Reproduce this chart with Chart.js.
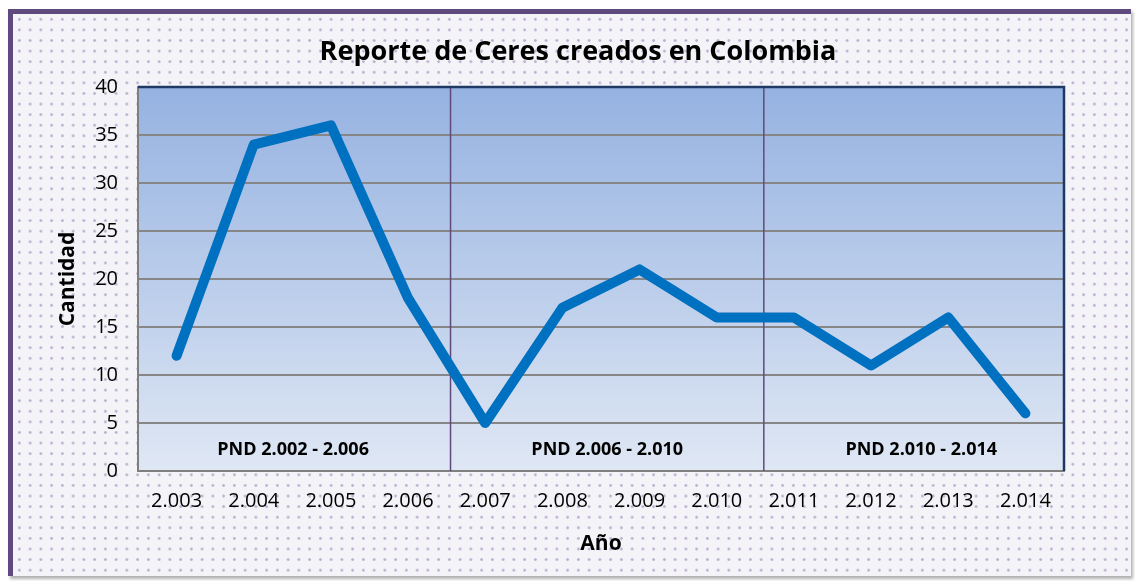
<!DOCTYPE html>
<html>
<head>
<meta charset="utf-8">
<script src="https://cdn.jsdelivr.net/npm/chart.js@4"></script>
<style>
  html, body { margin: 0; padding: 0; background: #fff; overflow: hidden; }
  #frame {
    position: absolute; left: 8px; top: 9px; width: 1118px; height: 562px;
    border-left: 5px solid #5f4a7d; border-top: 5px solid #5f4a7d;
    background-color: #f4f3f7;
    background-image: radial-gradient(circle, #bcaed0 1px, transparent 1.6px);
    background-size: 10.75px 10.6px;
    background-position: 1px 0px;
    box-shadow: 2px 3px 3px #b0b0b0;
  }
  #wrap { position: absolute; left: 0; top: 0; width: 1136px; height: 581px; }
</style>
</head>
<body>
<div id="frame"></div>
<div id="wrap"><canvas id="grafico" width="1136" height="581"></canvas></div>
<script>
const anios = ["2.003", "2.004", "2.005", "2.006", "2.007", "2.008", "2.009", "2.010", "2.011", "2.012", "2.013", "2.014"];
const cantidad = [12, 34, 36, 18, 5, 17, 21, 16, 16, 11, 16, 6];
const periodos = ["PND 2.002 - 2.006", "PND 2.006 - 2.010", "PND 2.010 - 2.014"];
const centroPeriodo = [1.51, 5.58, 9.65];   // posición en índice de categoría
const divisiones = [3.55, 7.61];

Chart.defaults.font.family = "'Open Sans', sans-serif";
Chart.defaults.color = "#000";

// fondo degradado, divisiones y marco del área de trazado
const fondoPlot = {
  id: "fondoPlot",
  beforeDraw(chart) {
    const { ctx, chartArea: a } = chart;
    const g = ctx.createLinearGradient(0, a.top, 0, a.bottom);
    g.addColorStop(0, "#95b2e1");
    g.addColorStop(1, "#dfe7f4");
    ctx.save();
    ctx.fillStyle = g;
    ctx.fillRect(a.left, a.top, a.right - a.left, a.bottom - a.top);
    ctx.restore();
  },
  beforeDatasetsDraw(chart) {
    const { ctx, chartArea: a, scales: { x, y } } = chart;
    ctx.save();
    ctx.strokeStyle = "#604a7b";
    ctx.lineWidth = 1.5;
    divisiones.forEach(d => {
      const px = x.getPixelForValue(d);
      ctx.beginPath();
      ctx.moveTo(px, a.top);
      ctx.lineTo(px, a.bottom);
      ctx.stroke();
    });
    ctx.fillStyle = "#000";
    ctx.font = "bold 18px 'Open Sans', sans-serif";
    ctx.textAlign = "center";
    ctx.textBaseline = "middle";
    periodos.forEach((p, i) => {
      ctx.fillText(p, x.getPixelForValue(centroPeriodo[i]), y.getPixelForValue(2.2));
    });
    ctx.restore();
  },
  afterDraw(chart) {
    const { ctx, chartArea: a } = chart;
    ctx.save();
    ctx.strokeStyle = "#1f3864";
    ctx.lineWidth = 2.5;
    ctx.beginPath();
    ctx.moveTo(a.left, a.top);
    ctx.lineTo(a.right, a.top);
    ctx.lineTo(a.right, a.bottom);
    ctx.stroke();
    ctx.restore();
  }
};

new Chart(document.getElementById("grafico").getContext("2d"), {
  type: "line",
  data: {
    labels: anios,
    datasets: [{
      label: "Cantidad",
      data: cantidad,
      borderColor: "#0070c0",
      borderWidth: 10,
      borderCapStyle: "round",
      borderJoinStyle: "round",
      pointRadius: 0,
      tension: 0,
      fill: false
    }]
  },
  options: {
    responsive: false,
    animation: false,
    layout: { padding: { left: 92, right: 72, top: 0, bottom: 0 } },
    plugins: {
      legend: { display: false },
      tooltip: { enabled: false },
      title: {
        display: true,
        text: "Reporte de Ceres creados en Colombia",
        font: { size: 27, weight: "bold" },
        color: "#000",
        padding: { top: 36, bottom: 18.6 }
      }
    },
    scales: {
      x: {
        offset: true,
        afterFit(scale) { scale.height = 110; },
        grid: { display: false, drawTicks: false, offset: true },
        border: { color: "#7f7f7f", width: 2 },
        ticks: { font: { size: 20 }, padding: 18, color: "#000", maxRotation: 0 },
        title: { display: true, text: "Año", font: { size: 21, weight: "bold" }, padding: { top: 0, bottom: 24 }, color: "#000" }
      },
      y: {
        min: 0,
        max: 40,
        afterFit(scale) { scale.width = 46; },
        grid: { color: "#868686", lineWidth: 2, drawTicks: false },
        border: { color: "#7f7f7f", width: 2 },
        ticks: { stepSize: 5, font: { size: 20 }, padding: 20, color: "#000" },
        title: { display: true, text: "Cantidad", font: { size: 21, weight: "bold" }, padding: { top: -36.6, bottom: 0 }, color: "#000" }
      }
    }
  },
  plugins: [fondoPlot]
});
</script>
</body>
</html>
